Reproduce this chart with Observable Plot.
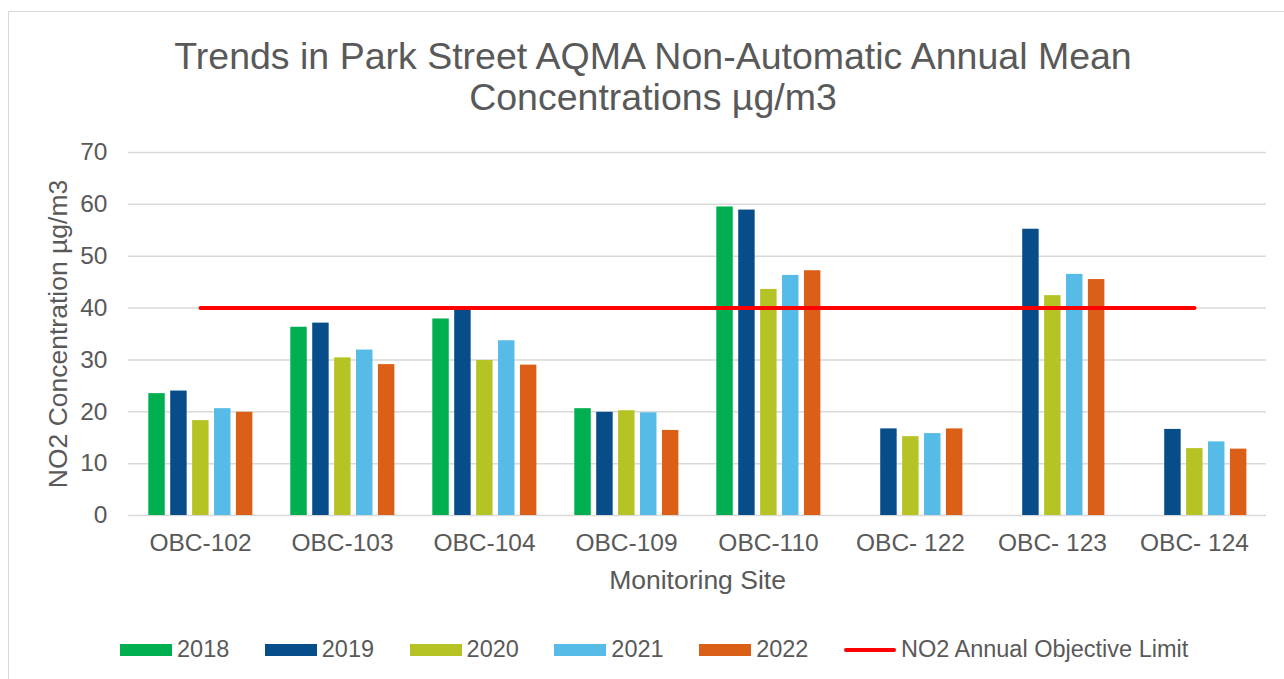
<!DOCTYPE html>
<html>
<head>
<meta charset="utf-8">
<script src="https://cdn.jsdelivr.net/npm/d3@7"></script>
<script src="https://cdn.jsdelivr.net/npm/@observablehq/plot@0.6"></script>
<style>
  html, body { margin: 0; padding: 0; background: #fff; }
  body { width: 1284px; height: 679px; overflow: hidden; position: relative; font-family: "Liberation Sans", Arial, sans-serif; color: #595959; }
  #frame { position: absolute; left: 8px; top: 11px; width: 1300px; height: 700px; border: 1.5px solid #d9d9d9; box-sizing: border-box; }
  #title { position: absolute; top: 36px; left: 0; width: 1306px; text-align: center; font-size: 37.5px; line-height: 41px; color: #595959; }
  #chart { position: absolute; top: 126px; left: 0; }
  #legend { position: absolute; top: 637px; left: 120px; height: 25px; display: flex; align-items: center; font-size: 23.5px; line-height: 25px; color: #595959; white-space: nowrap; }
  .item { display: flex; align-items: center; margin-right: 35.5px; }
  .sw { width: 52px; height: 12px; margin-right: 5px; }
  .ln { width: 52px; height: 4px; border-radius: 2px; margin-right: 5px; background: #ff0000; }
</style>
</head>
<body>
<div id="frame"></div>
<div id="title">Trends in Park Street AQMA Non-Automatic Annual Mean<br>Concentrations µg/m3</div>
<div id="chart"></div>
<div id="legend"></div>
<script>
// ---- data ----
const sites = ["OBC-102", "OBC-103", "OBC-104", "OBC-109", "OBC-110", "OBC- 122", "OBC- 123", "OBC- 124"];
const years = ["2018", "2019", "2020", "2021", "2022"];
const v2018 = [23.5, 36.3, 37.9, 20.6, 59.5, null, null, null];
const v2019 = [24.0, 37.1, 39.9, 19.9, 58.9, 16.7, 55.2, 16.6];
const v2020 = [18.3, 30.4, 29.9, 20.2, 43.6, 15.2, 42.4, 12.9];
const v2021 = [20.6, 31.9, 33.7, 19.8, 46.3, 15.8, 46.5, 14.2];
const v2022 = [19.9, 29.1, 29.0, 16.4, 47.2, 16.7, 45.5, 12.8];
const objectiveLimit = [40, 40, 40, 40, 40, 40, 40, 40];
const yTicks = [0, 10, 20, 30, 40, 50, 60, 70];
const limitLabel = "NO2 Annual Objective Limit";
const colors = ["#00B050", "#064D89", "#B5C424", "#56BCE7", "#DB5F16"];

const series = [v2018, v2019, v2020, v2021, v2022];
const rows = [];
years.forEach((yr, i) => series[i].forEach((v, j) => { if (v != null) rows.push({site: sites[j], year: yr, value: v}); }));
const limitRows = sites.map((s, j) => ({site: s, value: objectiveLimit[j]}));

// ---- layout ----
const W = 1284, H = 474, ML = 128, MR = 18, MT = 26, MB = 85;
const band = (W - ML - MR) / sites.length;
const off0 = band * 0.1357, step = band * 0.154, bw = band * 0.1174;

const barMarks = years.map((yr, i) => Plot.barY(rows.filter(r => r.year === yr), {
  x: "site", y: "value", fill: colors[i],
  insetLeft: off0 + i * step,
  insetRight: band - (off0 + i * step + bw)
}));

const plot = Plot.plot({
  width: W, height: H,
  marginLeft: ML, marginRight: MR, marginTop: MT, marginBottom: MB,
  style: {fontFamily: "'Liberation Sans', Arial, sans-serif", fontSize: "24.5px", color: "#595959", background: "transparent"},
  x: {domain: sites, padding: 0, tickSize: 0, tickPadding: 18, label: null},
  y: {domain: [0, 70], ticks: yTicks, tickSize: 0, tickPadding: 21, label: null},
  marks: [
    Plot.ruleY(yTicks, {stroke: "#d9d9d9", strokeWidth: 1.5}),
    ...barMarks,
    Plot.line(limitRows, {x: "site", y: "value", stroke: "#ff0000", strokeWidth: 4, strokeLinecap: "round"}),
    Plot.text(["Monitoring Site"], {frameAnchor: "bottom", dy: 65, lineAnchor: "middle", textAnchor: "middle", text: d => d, fontSize: 26.5, fill: "#595959"}),
    Plot.text(["NO2 Concentration µg/m3"], {frameAnchor: "left", dx: -70, rotate: -90, lineAnchor: "middle", textAnchor: "middle", text: d => d, fontSize: 26.5, fill: "#595959"})
  ]
});
document.getElementById("chart").appendChild(plot);

// ---- legend ----
const legend = document.getElementById("legend");
years.forEach((yr, i) => {
  const it = document.createElement("div"); it.className = "item";
  const sw = document.createElement("div"); sw.className = "sw"; sw.style.background = colors[i];
  const tx = document.createElement("span"); tx.textContent = yr;
  it.appendChild(sw); it.appendChild(tx); legend.appendChild(it);
});
{
  const it = document.createElement("div"); it.className = "item";
  const ln = document.createElement("div"); ln.className = "ln";
  const tx = document.createElement("span"); tx.textContent = limitLabel;
  it.appendChild(ln); it.appendChild(tx); legend.appendChild(it);
}
</script>
</body>
</html>
